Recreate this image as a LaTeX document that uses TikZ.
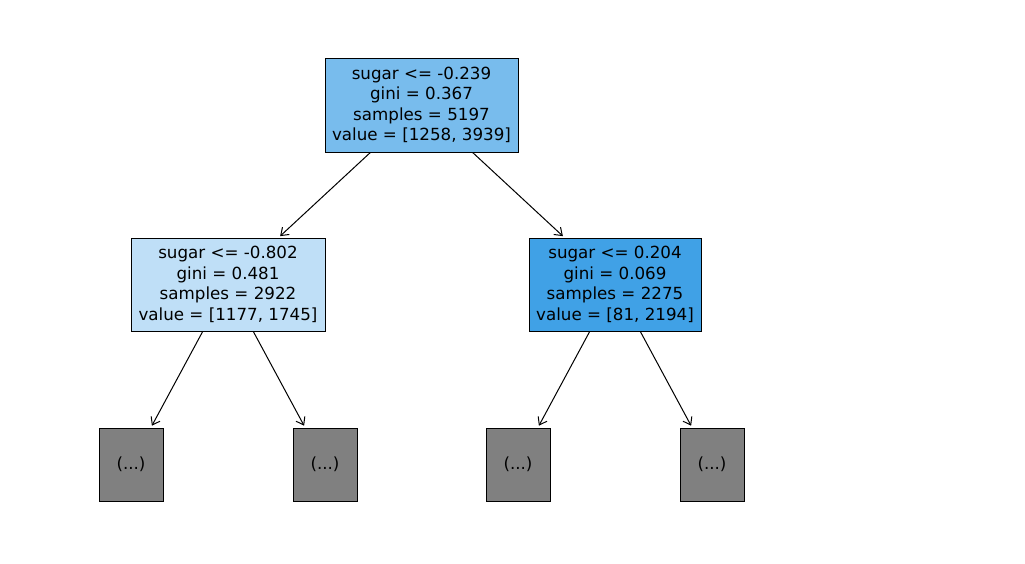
\documentclass[tikz,border=0pt]{standalone}
\usepackage{fontspec}
\setmainfont{DejaVu Sans}
\usetikzlibrary{arrows.meta}
\definecolor{rootc}{HTML}{78BCED}
\definecolor{leftc}{HTML}{BFDFF7}
\definecolor{rightc}{HTML}{40A1E6}
\definecolor{leafc}{HTML}{808080}
\tikzset{
  tree/.style={draw=black, line width=1pt, inner sep=0pt, align=center,
    font=\fontsize{16.7}{20.5}\selectfont},
  leafbox/.style={tree, fill=leafc, minimum width=64pt, minimum height=73pt},
  edge/.style={line width=1pt, -{Straight Barb[length=7pt,width=10pt]}, shorten >=2pt}
}
\begin{document}
\begin{tikzpicture}[x=1pt,y=-1pt]
\useasboundingbox (0,0) rectangle (1025,563);
\node[tree, fill=rootc, minimum width=193pt, minimum height=94pt] (root) at (421.5,105)
  {sugar <= -0.239\\gini = 0.367\\samples = 5197\\value = [1258, 3939]};
\node[tree, fill=leftc, minimum width=194pt, minimum height=93pt] (left) at (228,284.5)
  {sugar <= -0.802\\gini = 0.481\\samples = 2922\\value = [1177, 1745]};
\node[tree, fill=rightc, minimum width=172pt, minimum height=93pt] (right) at (615,284.5)
  {sugar <= 0.204\\gini = 0.069\\samples = 2275\\value = [81, 2194]};
\node[leafbox] (l1) at (131,464.5) {(...)};
\node[leafbox] (l2) at (325,464.5) {(...)};
\node[leafbox] (l3) at (518,464.5) {(...)};
\node[leafbox] (l4) at (712,464.5) {(...)};
\draw[edge] (root) -- (left);
\draw[edge] (root) -- (right);
\draw[edge] (left) -- (l1);
\draw[edge] (left) -- (l2);
\draw[edge] (right) -- (l3);
\draw[edge] (right) -- (l4);
\end{tikzpicture}
\end{document}
